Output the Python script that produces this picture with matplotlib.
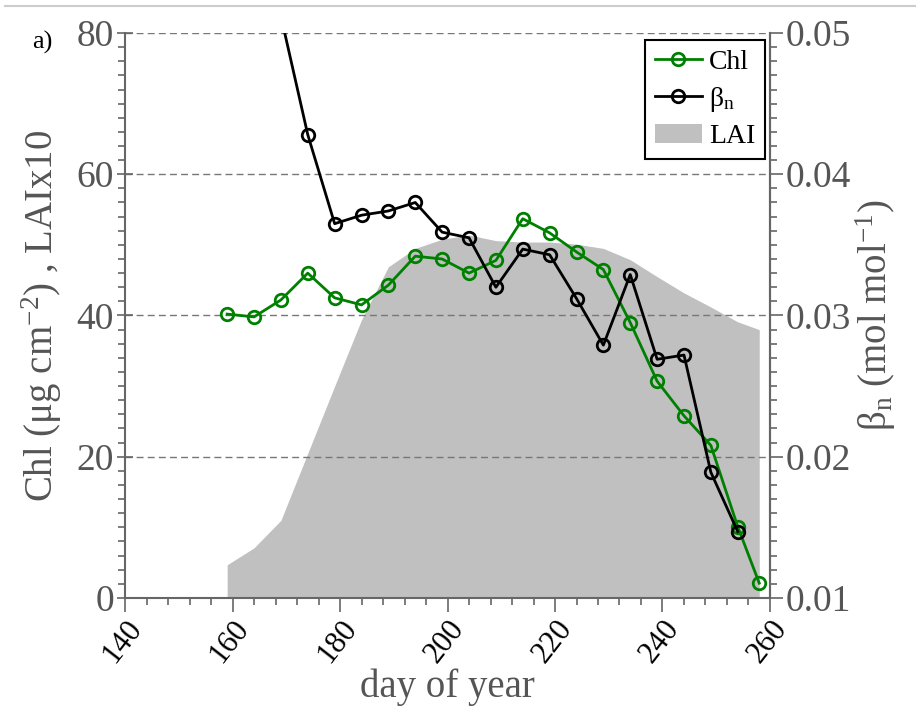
import matplotlib
matplotlib.use("Agg")
import matplotlib.pyplot as plt
from matplotlib.lines import Line2D
from matplotlib.ticker import MultipleLocator

plt.rcParams['font.family'] = ['Liberation Serif', 'DejaVu Serif']
plt.rcParams['mathtext.fontset'] = 'custom'
plt.rcParams['mathtext.rm'] = 'Liberation Serif'
plt.rcParams['mathtext.it'] = 'Liberation Serif:italic'
plt.rcParams['mathtext.bf'] = 'Liberation Serif:bold'

# sampling days (day of year)
doy = [159, 164, 169, 174, 179, 184, 189, 194, 199, 204, 209,
       214, 219, 224, 229, 234, 239, 244, 249, 254, 258]

# leaf chlorophyll (ug cm-2)
chl = [40.2, 39.8, 42.2, 46.0, 42.5, 41.5, 44.3, 48.4, 48.0, 46.0, 47.8,
       53.7, 51.7, 49.0, 46.5, 39.0, 30.7, 25.8, 21.6, 10.1, 2.1]

# leaf area index (m2 m-2), drawn as LAI x 10
lai = [0.47, 0.71, 1.10, 2.05, 3.00, 3.94, 4.69, 4.95, 5.08, 5.14, 5.06,
       5.04, 5.04, 5.01, 4.95, 4.79, 4.55, 4.32, 4.12, 3.91, 3.80]

# beta_n (mol mol-1)
beta_doy = [169, 174, 179, 184, 189, 194, 199, 204, 209,
            214, 219, 224, 229, 234, 239, 244, 249, 254]
beta_n = [0.0512, 0.0428, 0.0365, 0.0371, 0.0374, 0.0380, 0.0359, 0.0355, 0.0320,
          0.0347, 0.0343, 0.0312, 0.0279, 0.0329, 0.0269, 0.0272, 0.0189, 0.0147]

grey_txt = '#555555'
grey_ax = '#666666'
beta_lbl = 'β$_{\\rm n}$'

fig = plt.figure(figsize=(9.16, 7.19), dpi=100)
ax = fig.add_axes([0.1365, 0.1683, 0.7041, 0.7858])
ax2 = ax.twinx()

lai10 = [v * 10 for v in lai]
h_lai = ax.fill_between(doy, 0, lai10, color='#c0c0c0', lw=0, zorder=1, label='LAI')
h_chl, = ax.plot(doy, chl, '-o', color='green', lw=2, ms=9, mfc='none', mew=2,
                 zorder=3, label='Chl')
h_beta, = ax2.plot(beta_doy, beta_n, '-o', color='black', lw=2, ms=9, mfc='none',
                   mew=2, zorder=3, label=beta_lbl)

ax.set_xlim(140, 260)
ax.set_ylim(0, 80)
ax2.set_ylim(0.01, 0.05)

ax.xaxis.set_major_locator(MultipleLocator(20))
ax.xaxis.set_minor_locator(MultipleLocator(4))
ax.yaxis.set_major_locator(MultipleLocator(20))
ax.yaxis.set_minor_locator(MultipleLocator(2))
ax2.yaxis.set_major_locator(MultipleLocator(0.01))
ax2.yaxis.set_minor_locator(MultipleLocator(0.001))
ax2.yaxis.set_major_formatter(lambda v, p: f'{v:.2f}')

ax.yaxis.grid(True, which='major', linestyle=(0, (5, 3)), color='#777777', lw=1.0)
ax.set_axisbelow('line')

ax.tick_params(axis='y', which='major', direction='inout', length=12, width=1.2,
               color=grey_ax, labelcolor=grey_txt, labelsize=27, pad=2)
ax.tick_params(axis='y', which='minor', direction='out', length=5, width=1.2,
               color=grey_ax)
ax.tick_params(axis='x', which='major', direction='out', length=10, width=1.2,
               color=grey_ax, labelcolor='black', labelsize=22, pad=2)
ax.tick_params(axis='x', which='minor', direction='out', length=5, width=1.2,
               color=grey_ax)
ax2.tick_params(axis='y', which='major', direction='out', length=9, width=1.2,
                color=grey_ax, labelcolor=grey_txt, labelsize=27, pad=2)
ax2.tick_params(axis='y', which='minor', direction='out', length=5, width=1.2,
                color=grey_ax)

for lbl in ax.get_xticklabels():
    lbl.set_rotation(52)
    lbl.set_ha('right')
    lbl.set_va('top')
    lbl.set_rotation_mode('anchor')

for a in (ax, ax2):
    a.spines['top'].set_visible(False)
    for s in a.spines.values():
        s.set_color(grey_ax)
        s.set_linewidth(1.5)
ax2.spines['left'].set_visible(False)
ax2.spines['bottom'].set_visible(False)

ax.set_xlabel('day of year', fontsize=28, color=grey_txt)
ax.xaxis.set_label_coords(0.5, -0.125)
ax.set_ylabel('Chl (μg cm$^{-2}$) , LAIx10', fontsize=28, color=grey_txt)
ax.yaxis.set_label_coords(-0.094, 0.5)
ax2.set_ylabel(beta_lbl + ' (mol mol$^{-1}$)', fontsize=28, color=grey_txt)
ax2.yaxis.set_label_coords(1.13, 0.5)

leg = ax2.legend([h_chl, h_beta, h_lai], ['Chl', beta_lbl, 'LAI'],
                 loc='upper right', bbox_to_anchor=(765 / 916, 1 - 40 / 719),
                 bbox_transform=fig.transFigure, borderaxespad=0, fontsize=20,
                 fancybox=False, framealpha=1, edgecolor='black',
                 handlelength=1.7, handletextpad=0.25, borderpad=0.35,
                 labelspacing=0.35)
leg.get_frame().set_linewidth(1.5)

fig.add_artist(Line2D([0.006, 1.0], [1 - 6 / 719] * 2, color='#cccccc', lw=1.5))
fig.text(32 / 916, 1 - 49 / 719, 'a)', fontsize=19)

fig.savefig('out.png', dpi=100)
